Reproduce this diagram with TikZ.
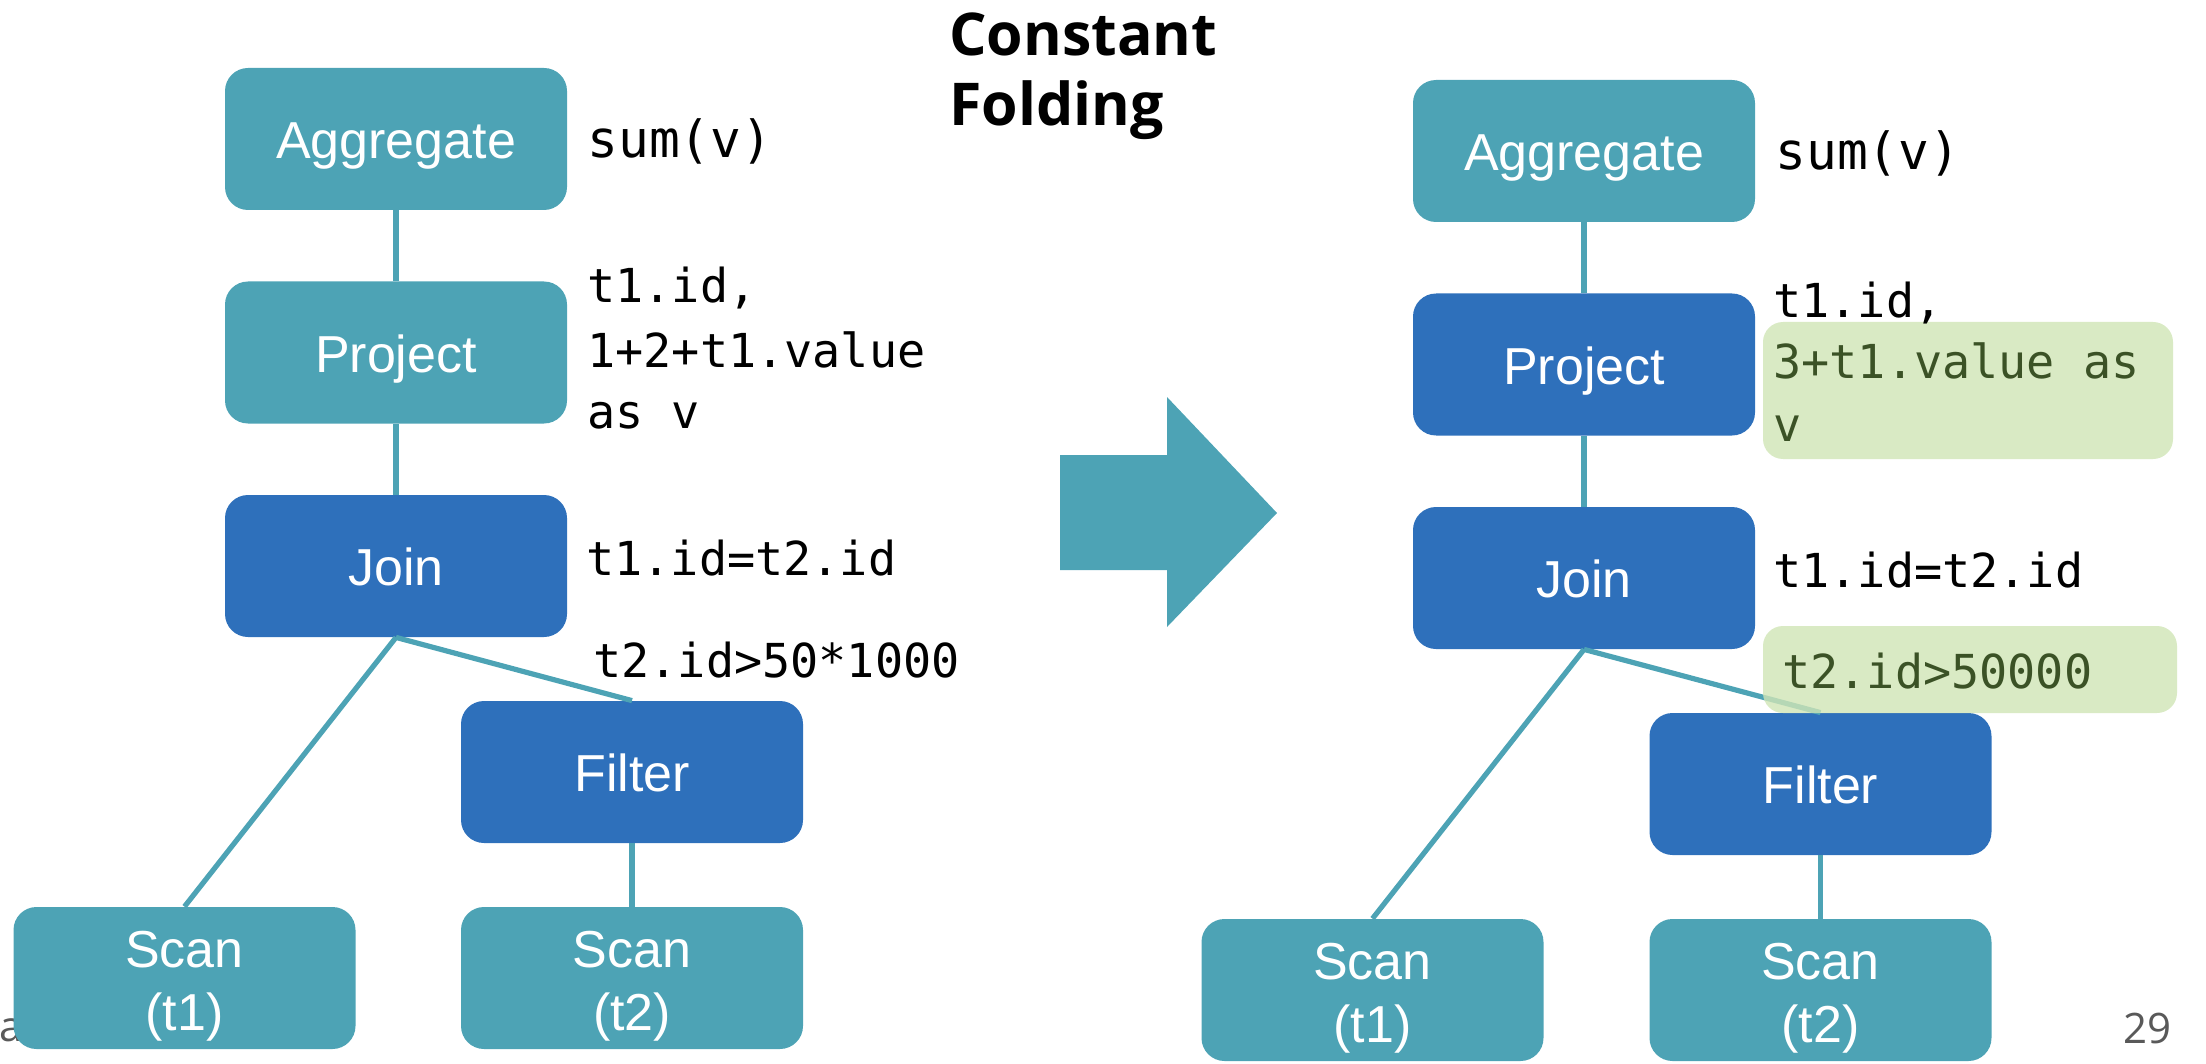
\documentclass[tikz,border=0pt]{standalone}
\usepackage{fontspec}
\setmainfont{Liberation Sans}
\newfontfamily\codefont{DejaVu Sans Mono}
\newfontfamily\titlefont{Open Sans}
\definecolor{tealbox}{HTML}{4DA3B5}
\definecolor{bluebox}{HTML}{2E70BB}
\definecolor{greenfill}{RGB}{208,229,181}
\definecolor{greentext}{HTML}{3B5226}
\definecolor{pagegray}{HTML}{595959}
\begin{document}
\begin{tikzpicture}[x=0.5pt,y=-0.5pt,
  op/.style={rounded corners=11.5pt, minimum width=171pt, minimum height=71pt,
    inner sep=0pt, text=white, font=\fontsize{26}{31.5}\selectfont, align=center,
    text height=26pt, text depth=6.5pt},
  scanop/.style={op, text height=56pt, text depth=4pt},
  tealop/.style={op, fill=tealbox},
  blueop/.style={op, fill=bluebox},
  link/.style={draw=tealbox, line width=2.6pt},
  code/.style={anchor=base west, inner sep=0pt, font=\codefont\fontsize{23.4}{31}\selectfont},
  bigcode/.style={code, font=\codefont\fontsize{25.6}{31}\selectfont},
  greencode/.style={code, text=greentext},
  hl/.style={fill=greenfill, fill opacity=0.8, rounded corners=10pt, inner sep=0pt}]
\useasboundingbox (0,0) rectangle (2206,1064);

% footer fragments
\node[anchor=base west, inner sep=0pt, text=pagegray, font=\titlefont\fontsize{21}{25}\selectfont] (footA) at (-1,1041) {a};
\node[anchor=base east, inner sep=0pt, text=pagegray, font=\titlefont\fontsize{21}{25}\selectfont] (pagenum) at (2172,1043) {29};

% title
\node[anchor=base west, inner sep=0pt, font=\titlefont\bfseries\fontsize{29.5}{35}\selectfont] (title1) at (949,56) {Constant};
\node[anchor=base west, inner sep=0pt, font=\titlefont\bfseries\fontsize{29.5}{35}\selectfont] (title2) at (949,126) {Folding};

% ---------- left plan ----------
\node[tealop] (aggL) at (396,139) {Aggregate};
\node[tealop] (projL) at (396,352.5) {Project};
\node[blueop] (joinL) at (396,566) {Join};
\node[blueop] (filtL) at (632,772) {Filter};
\node[tealop, scanop] (scan1L) at (184.5,978) {Scan\\(t1)};
\node[tealop, scanop] (scan2L) at (632,978) {Scan\\(t2)};

\draw[link] (aggL.south) -- (projL.north);
\draw[link] (projL.south) -- (joinL.north);
\draw[link] (joinL.south) -- (scan1L.north);
\draw[link] (joinL.south) -- (filtL.north);
\draw[link] (filtL.south) -- (scan2L.north);

\node[bigcode] (sumL) at (587,158) {sum(v)};
\node[code] (pl1L) at (587,303) {t1.id,};
\node[code] (pl2L) at (587,367) {1+2+t1.value};
\node[code] (pl3L) at (587,428) {as v};
\node[code] (joinTxtL) at (586,575) {t1.id=t2.id};
\node[code] (filtTxtL) at (593,677) {t2.id>50*1000};

% ---------- arrow ----------
\fill[tealbox] (1060,455) -- (1167,455) -- (1167,397) -- (1277,513) -- (1167,627) -- (1167,570) -- (1060,570) -- cycle;

% ---------- right plan ----------
\node[tealop] (aggR) at (1584,151) {Aggregate};
\node[blueop] (projR) at (1584,364.5) {Project};
\node[blueop] (joinR) at (1584,578) {Join};
\node[blueop] (filtR) at (1820.5,784) {Filter};
\node[tealop, scanop] (scan1R) at (1372.5,990) {Scan\\(t1)};
\node[tealop, scanop] (scan2R) at (1820.5,990) {Scan\\(t2)};

\draw[link] (aggR.south) -- (projR.north);
\draw[link] (projR.south) -- (joinR.north);
\draw[link] (joinR.south) -- (scan1R.north);
\draw[link] (joinR.south) -- (filtR.north);
\draw[link] (filtR.south) -- (scan2R.north);

\node[hl, minimum width=205pt, minimum height=68.5pt] (hlProj) at (1968,390.5) {};
\node[hl, minimum width=207pt, minimum height=43.5pt] (hlFilt) at (1970,669.5) {};

\node[bigcode] (sumR) at (1775,170) {sum(v)};
\node[code] (pl1R) at (1773,317) {t1.id,};
\node[greencode] (pl2R) at (1773,379) {3+t1.value as};
\node[greencode] (pl3R) at (1773,441) {v};
\node[code] (joinTxtR) at (1773,587) {t1.id=t2.id};
\node[greencode] (filtTxtR) at (1782,688) {t2.id>50000};
\end{tikzpicture}
\end{document}
